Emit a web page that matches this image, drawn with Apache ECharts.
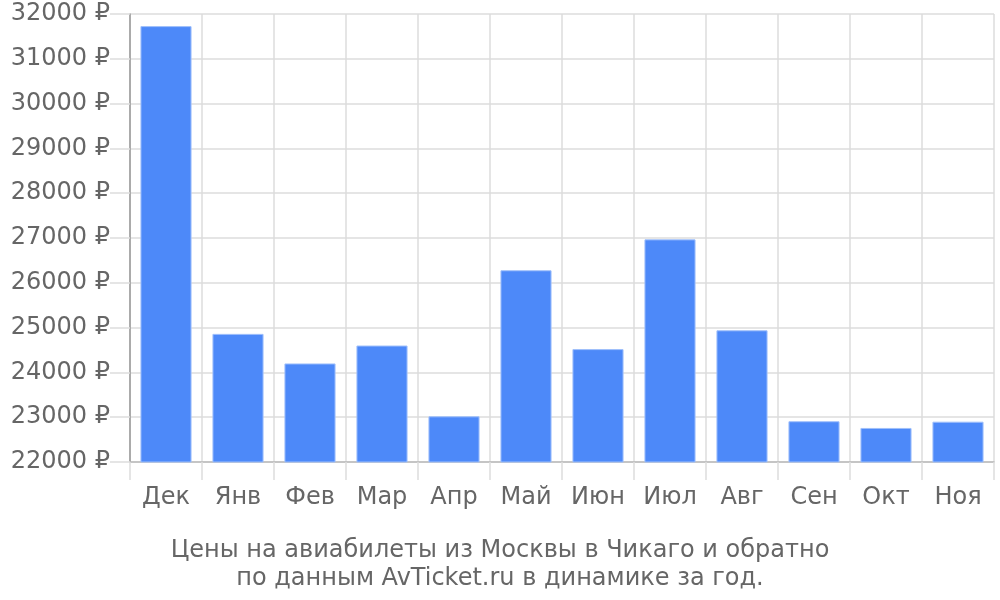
<!DOCTYPE html>
<html><head><meta charset="utf-8">
<script src="https://cdn.jsdelivr.net/npm/echarts@6/dist/echarts.min.js"></script>
<style>html,body{margin:0;padding:0;background:#fff}#c{width:1000px;height:600px}</style>
</head><body><div id="c"></div>
<script>
const categories = ['Дек','Янв','Фев','Мар','Апр','Май','Июн','Июл','Авг','Сен','Окт','Ноя'];
const prices = [31730, 24860, 24200, 24600, 23020, 26280, 24520, 26970, 24940, 22910, 22760, 22900];
const titleText = 'Цены на авиабилеты из Москвы в Чикаго и обратно\nпо данным AvTicket.ru в динамике за год.';

const chart = echarts.init(document.getElementById('c'));
const font = 'DejaVu Sans';
chart.setOption({
  animation: false,
  textStyle: { fontFamily: font },
  title: {
    text: titleText,
    left: 'center', top: 532,
    textStyle: { fontFamily: font, fontSize: 24, fontWeight: 'normal', color: '#666', lineHeight: 28 }
  },
  grid: { left: 130, right: 6, top: 14, bottom: 138 },
  xAxis: {
    type: 'category', data: categories, boundaryGap: true,
    axisLine: { lineStyle: { color: '#bbb', width: 1.5 } },
    axisTick: { show: true, length: 18, lineStyle: { color: '#ddd', width: 1.5 } },
    splitLine: { show: true, lineStyle: { color: '#ddd', width: 1.5 } },
    axisLabel: { fontFamily: font, fontSize: 24, color: '#666', margin: 24 }
  },
  yAxis: {
    type: 'value', min: 22000, max: 32000, interval: 1000,
    axisLine: { show: true, lineStyle: { color: '#999', width: 1.5 } },
    axisTick: { show: true, length: 20, lineStyle: { color: '#ddd', width: 1.5 } },
    splitLine: { show: true, lineStyle: { color: '#ddd', width: 1.5 } },
    axisLabel: { fontFamily: font, fontSize: 24, color: '#666', margin: 20, padding: [3, 0, 0, 0], formatter: v => v + ' ₽' }
  },
  series: [{
    type: 'bar', data: prices, barWidth: '71%',
    itemStyle: { color: '#4d89f9', borderColor: '#a0c0fb', borderWidth: 1 }
  }]
});
</script></body></html>
